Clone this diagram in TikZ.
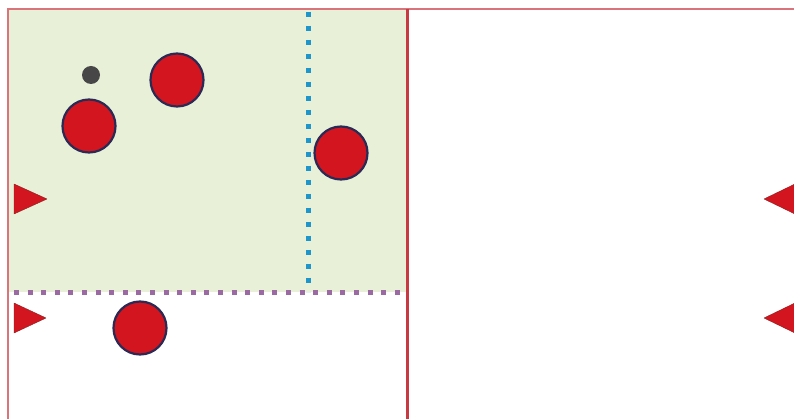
\documentclass[tikz,border=0pt]{standalone}
\begin{document}
\begin{tikzpicture}[x=1pt,y=-1pt,
  ball/.style={circle,draw=ballline,fill=ballred,line width=2.2pt,minimum size=53pt,inner sep=0pt},
  frame/.style={draw=framered,line width=2.2pt},
  divider/.style={draw=midred,line width=3pt},
  flag/.style={fill=ballred,draw=flagline,line width=0.4pt,line join=round}]
\definecolor{ballred}{HTML}{D2151E}
\definecolor{ballline}{HTML}{2B2A55}
\definecolor{framered}{HTML}{D9757A}
\definecolor{midred}{HTML}{C83A42}
\definecolor{zonegreen}{HTML}{E8F0D8}
\definecolor{dotblue}{HTML}{1E96CC}
\definecolor{dotpurple}{HTML}{9C6AA2}
\definecolor{dotgrey}{HTML}{474747}
\definecolor{flagline}{HTML}{8A2020}
\useasboundingbox (0,0) rectangle (794,419);
\fill[white] (0,0) rectangle (794,419);
% green zone
\fill[zonegreen] (8,9) rectangle (407,292);
% dotted lines
\coordinate (pt) at (308,9);
\coordinate (pb) at (308,292);
\coordinate (hl) at (8,292);
\coordinate (hr) at (407,292);
\draw[dotblue,line width=5pt,dash pattern=on 5pt off 9pt,dash phase=-3pt] (pt) -- (pb);
\draw[dotpurple,line width=5pt,dash pattern=on 5pt off 8.6pt,dash phase=-6pt] (hl) -- (hr);
% frame
\coordinate (tl) at (8,9);
\coordinate (tr) at (794,9);
\coordinate (bl) at (8,419);
\coordinate (mt) at (407,9);
\coordinate (mb) at (407,419);
\draw[frame] (bl) -- (tl) -- (tr);
\draw[divider] (mt) -- (mb);
% balls
\node[ball] (b1) at (177,80) {};
\node[ball] (b2) at (89,126) {};
\node[ball] (b3) at (341,153) {};
\node[ball] (b4) at (140,328) {};
\node[circle,fill=dotgrey,minimum size=18pt,inner sep=0pt] (s) at (91,75) {};
% flags
\filldraw[flag] (14,184) -- (47,199) -- (14,214) -- cycle;
\filldraw[flag] (14,303) -- (46,318) -- (14,333) -- cycle;
\filldraw[flag] (797,183) -- (764,199) -- (797,215) -- cycle;
\filldraw[flag] (797,302) -- (764,318) -- (797,334) -- cycle;
\end{tikzpicture}
\end{document}
